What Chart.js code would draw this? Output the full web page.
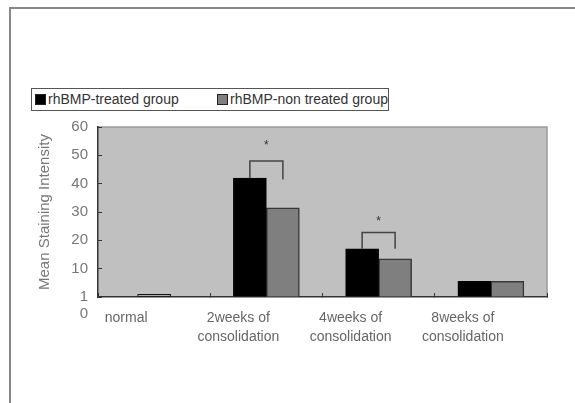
<!DOCTYPE html>
<html>
<head>
<meta charset="utf-8">
<script src="https://cdn.jsdelivr.net/npm/chart.js@4"></script>
<style>
  body { margin: 0; background: #fff; }
  #wrap { position: relative; width: 575px; height: 403px; overflow: hidden; }
  #frame { position: absolute; left: 9px; top: 7px; width: 600px; height: 420px;
           border-left: 2px solid #888; border-top: 2px solid #888; }
  #legend { position: absolute; left: 31px; top: 88px; width: 356px; height: 21px;
            border: 1.5px solid #555; background: #fff; font: 14px "Liberation Sans", Arial, sans-serif;
            color: #333; line-height: 21px; white-space: nowrap; }
  #legend span.item { position: absolute; top: 0; }
  #legend i { display: inline-block; width: 9px; height: 9px; border: 1px solid #222;
              margin-right: 2px; vertical-align: -1px; }
  canvas { position: absolute; left: 0; top: 0; }
</style>
</head>
<body>
<div id="wrap">
  <div id="frame"></div>
  <canvas id="c" width="575" height="403"></canvas>
  <div id="legend"></div>
</div>
<script>
/* ── data ── */
const categories  = ['normal', ['2weeks of', 'consolidation'], ['4weeks of', 'consolidation'], ['8weeks of', 'consolidation']];
const treated     = [null, 42, 17, 5.5];
const nonTreated  = [null, 31.5, 13.5, 5.5];
const normalVals  = [0.9, null, null, null];
const seriesNames = ['rhBMP-treated group', 'rhBMP-non treated group'];
const yTicks      = [0, 10, 20, 30, 40, 50, 60];
const yTickText   = ['1', '10', '20', '30', '40', '50', '60'];
const extraYLabel = '0';

/* significance brackets (value units) */
const bracketTop      = [null, 48, 22.8, null];
const bracketRightEnd = [null, 41.5, 17, null];
const starAt          = [null, 53.5, 26.5, null];

const FONT = '"Liberation Sans", Arial, sans-serif';

/* ── plot background + border ── */
const plotBg = {
  id: 'plotBg',
  beforeDraw(chart) {
    const { ctx, chartArea: a } = chart;
    ctx.save();
    ctx.fillStyle = '#c0c0c0';
    ctx.fillRect(a.left, a.top, a.right - a.left, a.bottom - a.top);
    ctx.strokeStyle = '#9a9a9a';
    ctx.lineWidth = 1.5;
    ctx.beginPath();
    ctx.moveTo(a.left, a.top);
    ctx.lineTo(a.right, a.top);
    ctx.lineTo(a.right, a.bottom);
    ctx.stroke();
    ctx.restore();
  },
};

/* ── brackets, stars and the stray "0" label ── */
const annot = {
  id: 'annot',
  afterDatasetsDraw(chart) {
    const { ctx } = chart;
    const y = chart.scales.y;
    const a = chart.getDatasetMeta(0).data, b = chart.getDatasetMeta(1).data;
    ctx.save();
    bracketTop.forEach((top, i) => {
      if (top == null) return;
      const x1 = a[i].x, x2 = b[i].x;
      ctx.strokeStyle = '#444';
      ctx.lineWidth = 1.5;
      ctx.beginPath();
      ctx.moveTo(x1, y.getPixelForValue(treated[i]));
      ctx.lineTo(x1, y.getPixelForValue(top));
      ctx.lineTo(x2, y.getPixelForValue(top));
      ctx.lineTo(x2, y.getPixelForValue(bracketRightEnd[i]));
      ctx.stroke();
      ctx.fillStyle = '#333';
      ctx.font = '12px ' + FONT;
      ctx.textAlign = 'center';
      ctx.textBaseline = 'middle';
      ctx.fillText('*', (x1 + x2) / 2, y.getPixelForValue(starAt[i]));
    });
    ctx.fillStyle = '#777';
    ctx.font = '15px ' + FONT;
    ctx.textAlign = 'right';
    ctx.textBaseline = 'middle';
    ctx.fillText(extraYLabel, y.right - 10, y.getPixelForValue(0) + 17);
    ctx.restore();
  },
};

const chart = new Chart(document.getElementById('c'), {
  type: 'bar',
  data: {
    labels: categories,
    datasets: [
      { label: seriesNames[0], data: treated, backgroundColor: '#000', borderColor: '#000', borderWidth: 1 },
      { label: seriesNames[1], data: nonTreated, backgroundColor: '#7f7f7f', borderColor: '#383838', borderWidth: 1.5 },
      { label: 'normal', data: normalVals, backgroundColor: '#c6c6c6', borderColor: '#111',
        borderWidth: 1, borderSkipped: false },
    ],
  },
  options: {
    responsive: false,
    animation: false,
    skipNull: true,
    barThickness: 33,
    layout: { padding: { top: 127, left: 28, right: 28, bottom: 46 } },
    plugins: { legend: { display: false }, tooltip: { enabled: false } },
    scales: {
      x: {
        grid: { offset: true, drawOnChartArea: false, drawTicks: true, tickLength: -4, color: '#333' },
        border: { color: '#333', width: 1.5 },
        ticks: { color: '#666', font: { family: FONT, size: 14, lineHeight: 1.35 }, padding: 16,
                 labelOffset: -28, maxRotation: 0, autoSkip: false },
        afterFit: s => { s.height = 60; },
      },
      y: {
        min: 0, max: 60,
        afterBuildTicks: s => { s.ticks = yTicks.map(v => ({ value: v })); },
        grid: { drawOnChartArea: false, drawTicks: true, tickLength: -4, color: '#333' },
        border: { color: '#333', width: 1.5 },
        ticks: { color: '#777', font: { family: FONT, size: 15 }, padding: 14,
                 callback: (v, i) => yTickText[i] },
        title: { display: true, text: 'Mean Staining Intensity', color: '#777',
                 font: { family: FONT, size: 15 }, padding: { top: 8, bottom: 0 } },
        afterFit: s => { s.width = 70; },
      },
    },
  },
  plugins: [plotBg, annot],
});

/* ── html legend built from datasets ── */
const lg = document.getElementById('legend');
const itemLeft = [3, 185];
chart.data.datasets.slice(0, 2).forEach((ds, i) => {
  const sp = document.createElement('span');
  sp.className = 'item';
  sp.style.left = itemLeft[i] + 'px';
  sp.innerHTML = `<i style="background:${ds.backgroundColor}"></i>${ds.label}`;
  lg.appendChild(sp);
});
</script>
</body>
</html>
